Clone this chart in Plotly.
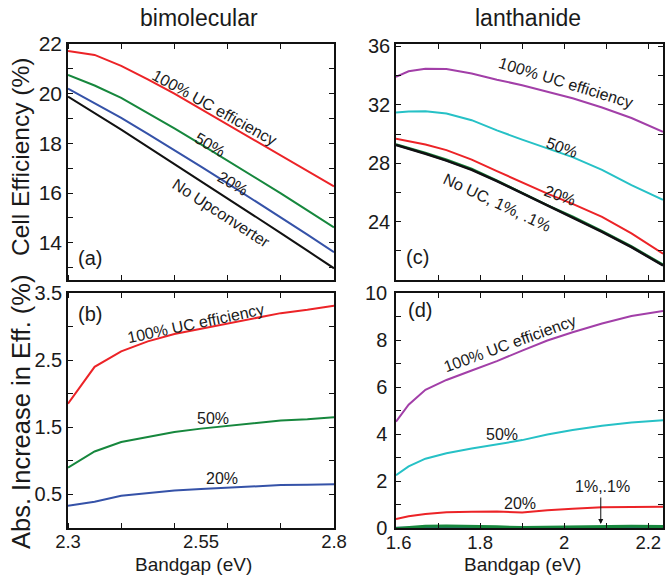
import plotly.graph_objects as go

# ---------------- data ----------------
bimol_bandgap = [2.30, 2.35, 2.40, 2.45, 2.50, 2.55, 2.60, 2.65, 2.70, 2.75, 2.80]
bi_eff_100 = [21.72, 21.56, 21.12, 20.58, 20.00, 19.38, 18.76, 18.12, 17.50, 16.88, 16.27]
bi_eff_50 = [20.75, 20.33, 19.83, 19.22, 18.60, 17.96, 17.31, 16.65, 15.99, 15.30, 14.62]
bi_eff_20 = [20.20, 19.60, 19.03, 18.38, 17.73, 17.06, 16.39, 15.71, 15.03, 14.33, 13.62]
bi_eff_none = [19.88, 19.22, 18.55, 17.86, 17.17, 16.48, 15.79, 15.09, 14.39, 13.68, 12.97]
bi_inc_100 = [1.85, 2.40, 2.63, 2.78, 2.89, 2.97, 3.05, 3.12, 3.20, 3.25, 3.31]
bi_inc_50 = [0.90, 1.14, 1.28, 1.36, 1.43, 1.48, 1.52, 1.56, 1.60, 1.62, 1.65]
bi_inc_20 = [0.33, 0.39, 0.48, 0.52, 0.56, 0.58, 0.60, 0.62, 0.64, 0.645, 0.65]

lan_bandgap = [1.60, 1.63, 1.67, 1.72, 1.78, 1.84, 1.90, 1.96, 2.02, 2.09, 2.16, 2.235]
lan_eff_100 = [33.92, 34.30, 34.48, 34.45, 34.15, 33.72, 33.35, 32.92, 32.45, 31.82, 31.10, 30.15]
lan_eff_50 = [31.48, 31.55, 31.57, 31.41, 30.95, 30.25, 29.62, 29.00, 28.42, 27.55, 26.50, 25.50]
lan_eff_20 = [29.68, 29.50, 29.28, 28.90, 28.25, 27.46, 26.68, 25.92, 25.22, 24.32, 23.20, 21.80]
lan_eff_1 = [29.30, 29.06, 28.72, 28.26, 27.63, 26.83, 25.97, 25.13, 24.35, 23.37, 22.32, 21.06]
lan_eff_01 = [29.25, 29.00, 28.66, 28.19, 27.56, 26.78, 25.95, 25.10, 24.31, 23.31, 22.26, 21.00]
lan_eff_none = [29.25, 29.00, 28.65, 28.18, 27.55, 26.78, 25.95, 25.10, 24.30, 23.30, 22.25, 21.00]
lan_inc_100 = [4.52, 5.25, 5.88, 6.30, 6.70, 7.10, 7.55, 7.98, 8.33, 8.70, 9.02, 9.23]
lan_inc_50 = [2.25, 2.62, 2.95, 3.18, 3.38, 3.57, 3.74, 3.98, 4.17, 4.35, 4.49, 4.58]
lan_inc_20 = [0.38, 0.50, 0.60, 0.67, 0.69, 0.70, 0.66, 0.76, 0.82, 0.88, 0.89, 0.90]
lan_inc_1 = [-0.02, 0.03, 0.07, 0.09, 0.08, 0.05, 0.02, 0.03, 0.05, 0.07, 0.07, 0.06]
lan_inc_01 = [0.0, 0.005, 0.005, 0.005, 0.005, 0.005, 0.005, 0.005, 0.005, 0.005, 0.005, 0.005]

bi_xticks = [2.3, 2.55, 2.8]
bi_xticklabels = ["2.3", "2.55", "2.8"]
lan_xticks = [1.6, 1.8, 2.0, 2.2]
lan_xticklabels = ["\u00a01.6", "1.8", "2", "2.2"]

# ---------------- style ----------------
RED = "#ec2327"
GREEN = "#16873d"
BLUE = "#3552a8"
BLACK = "#111111"
PURPLE = "#a23fa8"
CYAN = "#26c1c6"
FONT = "Liberation Sans, Arial, Helvetica, sans-serif"
TXT = "#1a1a1a"

fig = go.Figure()

def line(x, y, color, xa, ya, width=2.0):
    fig.add_trace(go.Scatter(x=x, y=y, mode="lines", xaxis=xa, yaxis=ya,
                             line=dict(color=color, width=width), showlegend=False,
                             hoverinfo="skip"))

# (a)
line(bimol_bandgap, bi_eff_none, BLACK, "x", "y")
line(bimol_bandgap, bi_eff_20, BLUE, "x", "y")
line(bimol_bandgap, bi_eff_50, GREEN, "x", "y")
line(bimol_bandgap, bi_eff_100, RED, "x", "y")
# (b)
line(bimol_bandgap, bi_inc_20, BLUE, "x2", "y2")
line(bimol_bandgap, bi_inc_50, GREEN, "x2", "y2")
line(bimol_bandgap, bi_inc_100, RED, "x2", "y2")
# (c)
line(lan_bandgap, lan_eff_01, BLUE, "x3", "y3")
line(lan_bandgap, lan_eff_1, GREEN, "x3", "y3")
line(lan_bandgap, lan_eff_none, BLACK, "x3", "y3", 2.5)
line(lan_bandgap, lan_eff_20, RED, "x3", "y3")
line(lan_bandgap, lan_eff_50, CYAN, "x3", "y3")
line(lan_bandgap, lan_eff_100, PURPLE, "x3", "y3")
# (d)
line(lan_bandgap, lan_inc_01, BLUE, "x4", "y4", 2.5)
line(lan_bandgap, lan_inc_1, GREEN, "x4", "y4", 3.0)
line(lan_bandgap, lan_inc_20, RED, "x4", "y4")
line(lan_bandgap, lan_inc_50, CYAN, "x4", "y4")
line(lan_bandgap, lan_inc_100, PURPLE, "x4", "y4")

W, H = 666, 582
XL = [68 / W, 334 / W]
XR = [396 / W, 663 / W]
YT = [1 - 280 / H, 1 - 44 / H]
YB = [1 - 528 / H, 1 - 293 / H]

base = dict(showline=True, linecolor=BLACK, linewidth=1.5, mirror="allticks",
            showgrid=False, zeroline=False, ticks="inside", ticklen=5,
            automargin=False,
            tickcolor=BLACK, tickwidth=1, tickfont=dict(family=FONT, size=20, color=TXT))

def minor(t0, dt):
    return dict(tickmode="linear", tick0=t0, dtick=dt, ticks="inside", ticklen=5,
                tickcolor=BLACK, tickwidth=1)

XTF = dict(family=FONT, size=18.5, color=TXT)

fig.update_layout(
    width=W, height=H, autosize=False,
    margin=dict(l=0, r=0, t=0, b=0, pad=0),
    paper_bgcolor="white", plot_bgcolor="white",
    xaxis=dict(base, domain=XL, range=[2.3, 2.8], anchor="y", tickmode="array",
               tickvals=bi_xticks, ticktext=bi_xticklabels, showticklabels=False,
               ticks="", minor=minor(2.3, 0.1)),
    yaxis=dict(base, domain=YT, range=[12.5, 22], anchor="x", tickmode="linear",
               tick0=14, dtick=2, minor=minor(13, 1),
               tickfont=dict(family=FONT, size=21, color=TXT)),
    xaxis2=dict(base, domain=XL, range=[2.3, 2.8], anchor="y2", tickmode="array",
                tickvals=bi_xticks, ticktext=bi_xticklabels, ticks="",
                minor=minor(2.3, 0.1), tickfont=XTF, ticklabelstandoff=-4),
    yaxis2=dict(base, domain=YB, range=[0, 3.5], anchor="x2", tickmode="array",
                tickvals=[0.5, 1.5, 2.5, 3.5], ticktext=["0.5", "1.5", "2.5", "3.5"],
                minor=minor(0, 0.5)),
    xaxis3=dict(base, domain=XR, range=[1.6, 2.235], anchor="y3", tickmode="array",
                tickvals=lan_xticks, showticklabels=False, minor=minor(1.6, 0.1)),
    yaxis3=dict(base, domain=YT, range=[20, 36.17], anchor="x3", tickmode="array",
                tickvals=[24, 28, 32, 36], ticktext=["24", "28", "32", "36"],
                minor=minor(20, 2)),
    xaxis4=dict(base, domain=XR, range=[1.6, 2.235], anchor="y4", tickmode="array",
                tickvals=lan_xticks, ticktext=lan_xticklabels, minor=minor(1.6, 0.1),
                tickfont=XTF, ticklabelstandoff=-3),
    yaxis4=dict(base, domain=YB, range=[0, 10], anchor="x4", tickmode="linear",
                tick0=0, dtick=2, minor=minor(0, 1), ticklabelstandoff=3),
)

ann = []

def txt(text, x, y, xref, yref, size=16, angle=0, **kw):
    ann.append(dict(text=text, x=x, y=y, xref=xref, yref=yref, showarrow=False,
                    textangle=angle, xanchor="center", yanchor="middle",
                    font=dict(family=FONT, size=size, color=TXT), **kw))

# titles and axis titles (paper coordinates from pixels)
def paper(text, px, py, size, angle=0):
    txt(text, px / W, 1 - py / H, "paper", "paper", size=size, angle=angle)

paper("bimolecular", 199, 18, 23)
paper("lanthanide", 528, 18, 23)
paper("Cell Efficiency (%)", 21, 157, 24.5, -90)
paper("Abs. Increase in Eff. (%)", 21, 412, 25.5, -90)
paper("Bandgap (eV)", 193, 564, 19)
paper("Bandgap (eV)", 522, 564, 19)

# (a)
txt("(a)", 2.341, 13.39, "x", "y", size=20)
txt("100% UC efficiency", 2.575, 19.46, "x", "y", angle=29)
txt("50%", 2.566, 17.95, "x", "y", angle=30)
txt("20%", 2.61, 16.40, "x", "y", angle=30)
txt("No Upconverter", 2.589, 15.19, "x", "y", angle=33)
# (b)
txt("(b)", 2.341, 3.19, "x2", "y2", size=20)
txt("100% UC efficiency", 2.539, 3.05, "x2", "y2", angle=-12)
txt("50%", 2.573, 1.63, "x2", "y2")
txt("20%", 2.589, 0.73, "x2", "y2")
# (c)
txt("(c)", 1.652, 21.56, "x3", "y3", size=20)
txt("100% UC efficiency", 2.002, 33.50, "x3", "y3", angle=17)
txt("50%", 1.995, 29.1, "x3", "y3", angle=20)
txt("20%", 1.99, 25.8, "x3", "y3", angle=20)
txt("No UC, 1%, .1%", 1.840, 25.33, "x3", "y3", angle=25)
# (d)
txt("(d)", 1.657, 9.28, "x4", "y4", size=20)
txt("100% UC efficiency", 1.871, 7.87, "x4", "y4", angle=-20)
txt("50%", 1.852, 3.96, "x4", "y4")
txt("20%", 1.895, 1.06, "x4", "y4")
txt("1%,.1%", 2.09, 1.76, "x4", "y4")
ann.append(dict(x=2.087, y=0.17, xref="x4", yref="y4", ax=0, ay=-28, text="",
                showarrow=True, arrowhead=2, arrowsize=1, arrowwidth=1,
                arrowcolor=BLACK))

fig.update_layout(annotations=ann)
fig.write_html("out.html", config={"displayModeBar": False},
               post_script="document.body.style.margin='0px';document.body.style.padding='0px';")
